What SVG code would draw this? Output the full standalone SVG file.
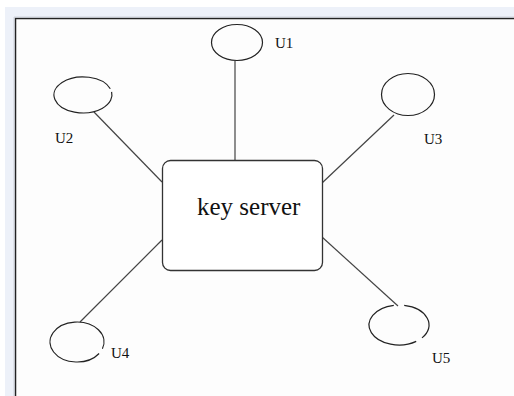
<svg xmlns="http://www.w3.org/2000/svg" width="514" height="396" viewBox="0 0 514 396">
  <style>
    .user { fill: none; stroke: #222; stroke-width: 1.2; }
    .link { stroke: #444; stroke-width: 1.2; fill: none; }
    .label { font-family: "Liberation Serif", "Times New Roman", serif; fill: #111; }
    .small { font-size: 15px; }
  </style>
  <!-- page frame -->
  <rect x="0" y="0" width="514" height="396" fill="#ffffff"/>
  <rect x="5" y="7" width="509" height="389" fill="#edf1f9"/>
  <rect x="16" y="19" width="498" height="377" fill="#fdfdfd"/>
  <path d="M15.5 396 V18.5 H514" fill="none" stroke="#222" stroke-width="1.5"/>
  <path d="M14 396 V17 H514" fill="none" stroke="#c8ccd4" stroke-width="0.8"/>

  <g id="connectors">
    <line class="link" x1="235" y1="61" x2="235" y2="160"/>
    <line class="link" x1="94" y1="112" x2="162" y2="182"/>
    <line class="link" x1="394" y1="115" x2="322" y2="183"/>
    <line class="link" x1="80" y1="322" x2="162" y2="240"/>
    <line class="link" x1="322" y1="237" x2="398" y2="306"/>
  </g>

  <g id="key-server">
    <rect x="162.5" y="160.5" width="160" height="110" rx="8" fill="#ffffff" stroke="#333" stroke-width="1.3"/>
    <text class="label" x="197" y="215" font-size="25">key server</text>
  </g>

  <g id="u1">
    <ellipse class="user" cx="237" cy="42.5" rx="25.5" ry="18"/>
    <text class="label small" x="275" y="48">U1</text>
  </g>

  <g id="u2">
    <!-- ellipse centred at (83,95) with a small break on the upper right -->
    <path class="user" d="M111.6 91.9 A29 18 0 1 1 110.3 88.8"/>
    <text class="label small" x="55" y="143">U2</text>
  </g>

  <g id="u3">
    <ellipse class="user" cx="408" cy="94.5" rx="26.5" ry="21"/>
    <text class="label small" x="424" y="144">U3</text>
  </g>

  <g id="u4">
    <!-- ellipse centred at (77,342) with a small break on the lower right -->
    <path class="user" d="M99.1 353.5 A27 20 0 1 1 102.4 348.8"/>
    <text class="label small" x="111" y="358">U4</text>
  </g>

  <g id="u5">
    <!-- ellipse centred at (399,325), broken at the top and lower right -->
    <path class="user" d="M404.2 305.3 A30 20 0 0 1 422 337.9 M416.2 341.4 A30 20 0 1 1 393.8 305.3"/>
    <text class="label small" x="432" y="363">U5</text>
  </g>
</svg>
